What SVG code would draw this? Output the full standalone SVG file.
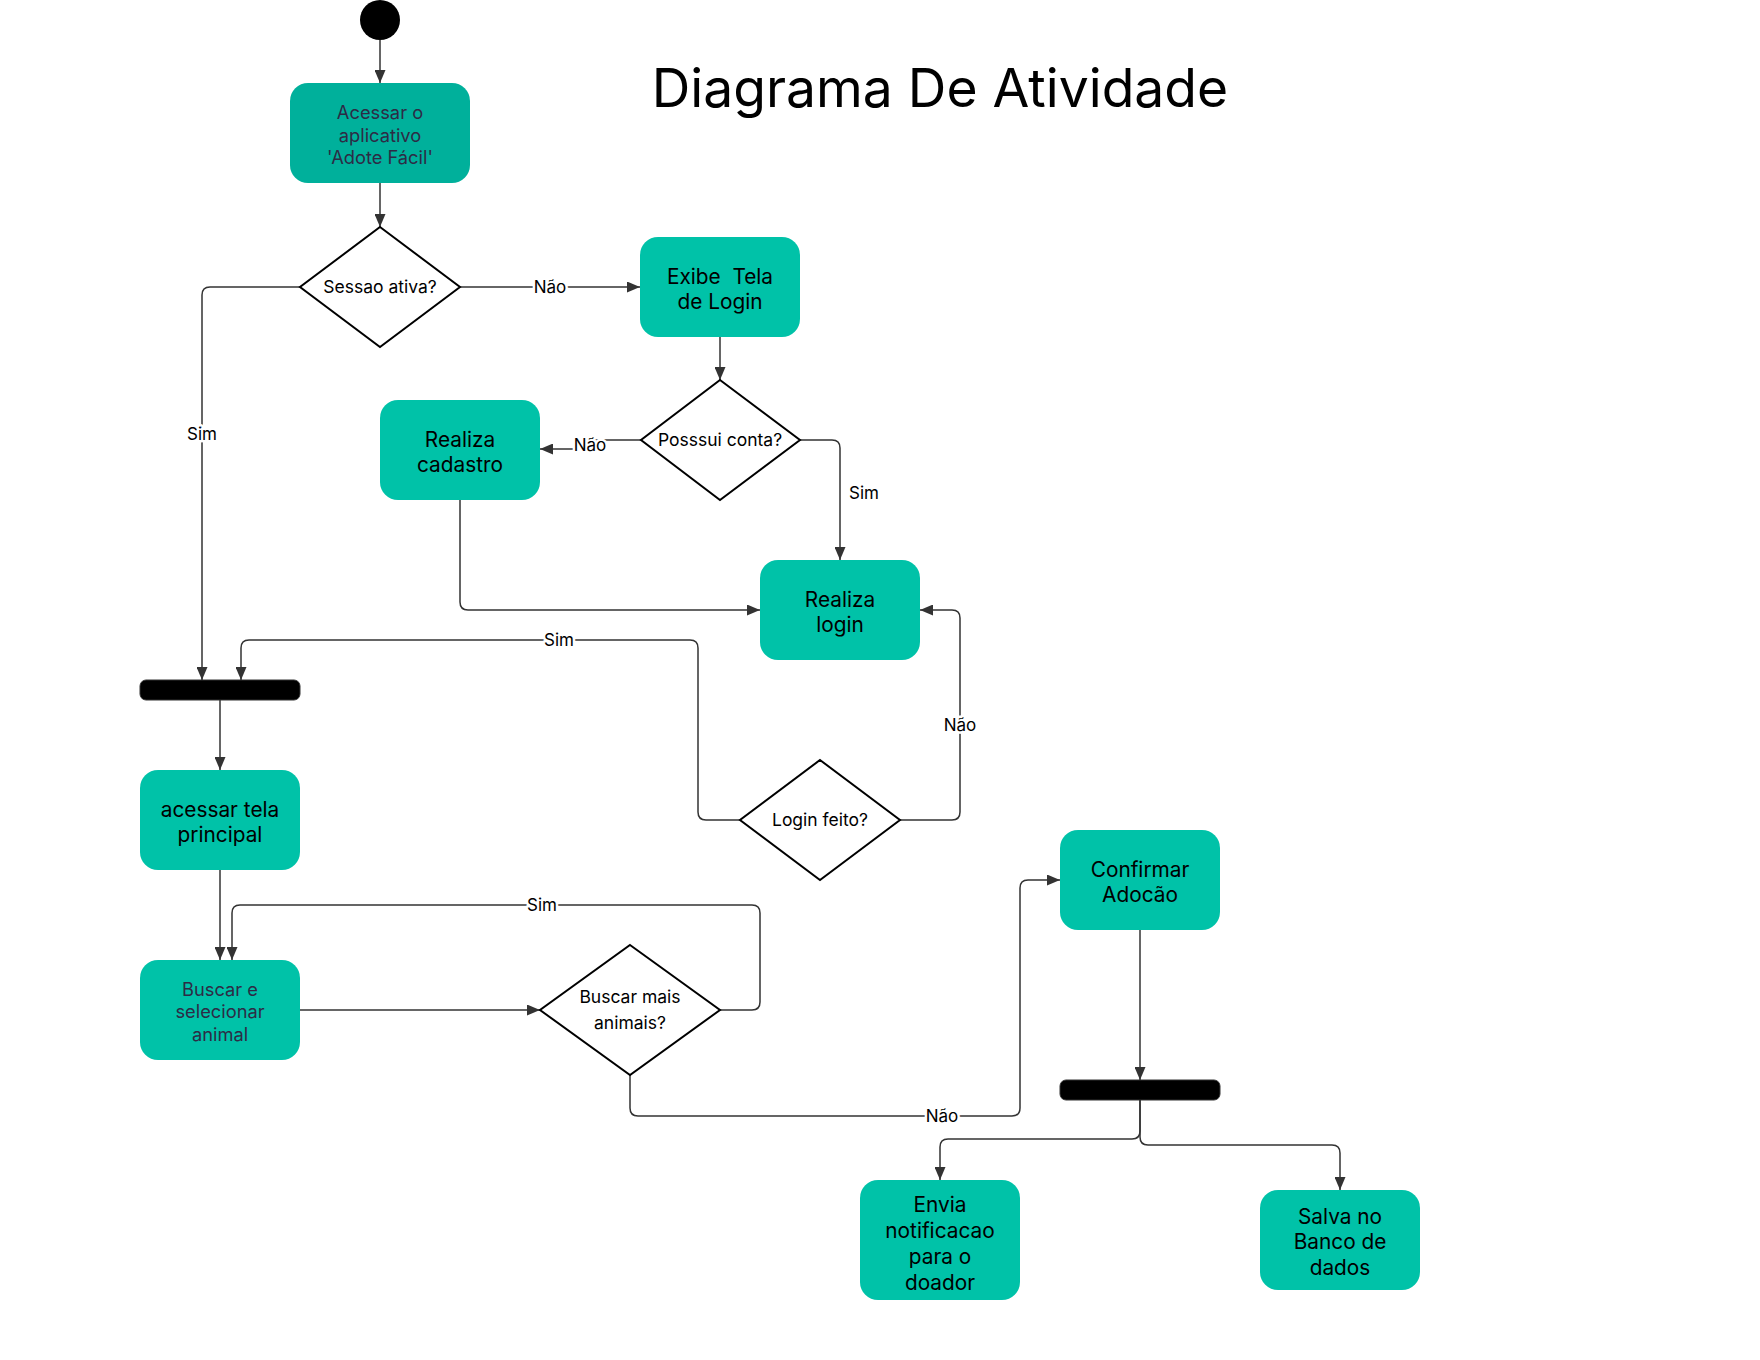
<svg xmlns="http://www.w3.org/2000/svg" width="1760" height="1360" viewBox="0 0 1760 1360">
<style>
.box{fill:#00C2A8;}
.boxd{fill:#00B09B;}
.dia{fill:#fff;stroke:#000;stroke-width:2;}
.bar{fill:#000;stroke:#333;stroke-width:1;}
.t{font-family:Inter,"Liberation Sans",sans-serif;font-size:20.8px;fill:#000;text-anchor:middle;}
.ts{font-family:Inter,"Liberation Sans",sans-serif;font-size:18.3px;fill:#2d2b45;text-anchor:middle;}
.td{font-family:Inter,"Liberation Sans",sans-serif;font-size:17.5px;fill:#000;text-anchor:middle;}
.lbl{font-family:Inter,"Liberation Sans",sans-serif;font-size:17px;fill:#000;text-anchor:middle;stroke:#fff;stroke-width:5px;paint-order:stroke;stroke-linejoin:round;}
.c{fill:none;stroke:#333;stroke-width:1.5;marker-end:url(#ah);}
</style>
<defs>
<marker id="ah" markerUnits="userSpaceOnUse" markerWidth="13" markerHeight="11" refX="13" refY="5.5" orient="auto">
<path d="M0,0 L13,5.5 L0,11 z" fill="#333"/>
</marker>
</defs>
<rect width="1760" height="1360" fill="#fff"/>
<text x="940" y="107" font-family="Inter,'Liberation Sans',sans-serif" font-size="53.4" text-anchor="middle" fill="#000">Diagrama De Atividade</text>

<g id="connectors">
<path class="c" d="M380,40 V83"/>
<path class="c" d="M380,183 V227"/>
<path class="c" d="M460,287 H640"/>
<path class="c" d="M300,287 H210 Q202,287 202,295 V680"/>
<path class="c" d="M720,337 V380"/>
<path class="c" d="M641,440 H590 V449 H540"/>
<path class="c" d="M800,440 H832 Q840,440 840,448 V560"/>
<path class="c" d="M460,500 V602 Q460,610 468,610 H760"/>
<path class="c" d="M740,820 H706 Q698,820 698,812 V648 Q698,640 690,640 H249 Q241,640 241,648 V680"/>
<path class="c" d="M900,820 H952 Q960,820 960,812 V618 Q960,610 952,610 H920"/>
<path class="c" d="M220,700 V770"/>
<path class="c" d="M220,870 V960"/>
<path class="c" d="M300,1010 H540"/>
<path class="c" d="M720,1010 H752 Q760,1010 760,1002 V913 Q760,905 752,905 H240 Q232,905 232,913 V960"/>
<path class="c" d="M630,1075 V1108 Q630,1116 638,1116 H1012 Q1020,1116 1020,1108 V888 Q1020,880 1028,880 H1060"/>
<path class="c" d="M1140,930 V1080"/>
<path class="c" d="M1140,1100 V1131 Q1140,1139 1132,1139 H948 Q940,1139 940,1147 V1180"/>
<path class="c" d="M1140,1100 V1137 Q1140,1145 1148,1145 H1332 Q1340,1145 1340,1153 V1190"/>
<text class="lbl" x="550" y="293">Não</text>
<text class="lbl" x="202" y="440">Sim</text>
<text class="lbl" x="590" y="451">Não</text>
<text class="lbl" x="864" y="499">Sim</text>
<text class="lbl" x="559" y="646">Sim</text>
<text class="lbl" x="960" y="731">Não</text>
<text class="lbl" x="542" y="911">Sim</text>
<text class="lbl" x="942" y="1122">Não</text>
</g>

<g id="start"><circle cx="380" cy="20" r="20" fill="#000"/></g>

<g id="acessar-app">
<rect class="boxd" x="290" y="83" width="180" height="100" rx="18"/>
<text class="ts" x="380" y="119">Acessar o</text>
<text class="ts" x="380" y="141.5">aplicativo</text>
<text class="ts" x="380" y="164">'Adote Fácil'</text>
</g>

<g id="sessao">
<polygon class="dia" points="380,227 460,287 380,347 300,287"/>
<text class="td" x="380" y="293">Sessao ativa?</text>
</g>

<g id="exibe-login">
<rect class="box" x="640" y="237" width="160" height="100" rx="18"/>
<text class="t" x="720" y="284" xml:space="preserve">Exibe  Tela</text>
<text class="t" x="720" y="309">de Login</text>
</g>

<g id="possui-conta">
<polygon class="dia" points="720,380 800,440 720,500 641,440"/>
<text class="td" x="720" y="446">Posssui conta?</text>
</g>

<g id="realiza-cadastro">
<rect class="box" x="380" y="400" width="160" height="100" rx="18"/>
<text class="t" x="460" y="447">Realiza</text>
<text class="t" x="460" y="472">cadastro</text>
</g>

<g id="realiza-login">
<rect class="box" x="760" y="560" width="160" height="100" rx="18"/>
<text class="t" x="840" y="607">Realiza</text>
<text class="t" x="840" y="632">login</text>
</g>

<g id="login-feito">
<polygon class="dia" points="820,760 900,820 820,880 740,820"/>
<text class="td" x="820" y="826">Login feito?</text>
</g>

<g id="fork1"><rect class="bar" x="140" y="680" width="160" height="20" rx="6"/></g>

<g id="acessar-tela">
<rect class="box" x="140" y="770" width="160" height="100" rx="18"/>
<text class="t" x="220" y="817">acessar tela</text>
<text class="t" x="220" y="842">principal</text>
</g>

<g id="buscar">
<rect class="box" x="140" y="960" width="160" height="100" rx="18"/>
<text class="ts" x="220" y="996">Buscar e</text>
<text class="ts" x="220" y="1018">selecionar</text>
<text class="ts" x="220" y="1041">animal</text>
</g>

<g id="buscar-mais">
<polygon class="dia" points="630,945 720,1010 630,1075 540,1010"/>
<text class="td" x="630" y="1003">Buscar mais</text>
<text class="td" x="630" y="1029">animais?</text>
</g>

<g id="confirmar">
<rect class="box" x="1060" y="830" width="160" height="100" rx="18"/>
<text class="t" x="1140" y="877">Confirmar</text>
<text class="t" x="1140" y="902">Adocão</text>
</g>

<g id="fork2"><rect class="bar" x="1060" y="1080" width="160" height="20" rx="6"/></g>

<g id="envia">
<rect class="box" x="860" y="1180" width="160" height="120" rx="18"/>
<text class="t" x="940" y="1212">Envia</text>
<text class="t" x="940" y="1238">notificacao</text>
<text class="t" x="940" y="1264">para o</text>
<text class="t" x="940" y="1290">doador</text>
</g>

<g id="salva">
<rect class="box" x="1260" y="1190" width="160" height="100" rx="18"/>
<text class="t" x="1340" y="1224">Salva no</text>
<text class="t" x="1340" y="1249">Banco de</text>
<text class="t" x="1340" y="1275">dados</text>
</g>
</svg>
